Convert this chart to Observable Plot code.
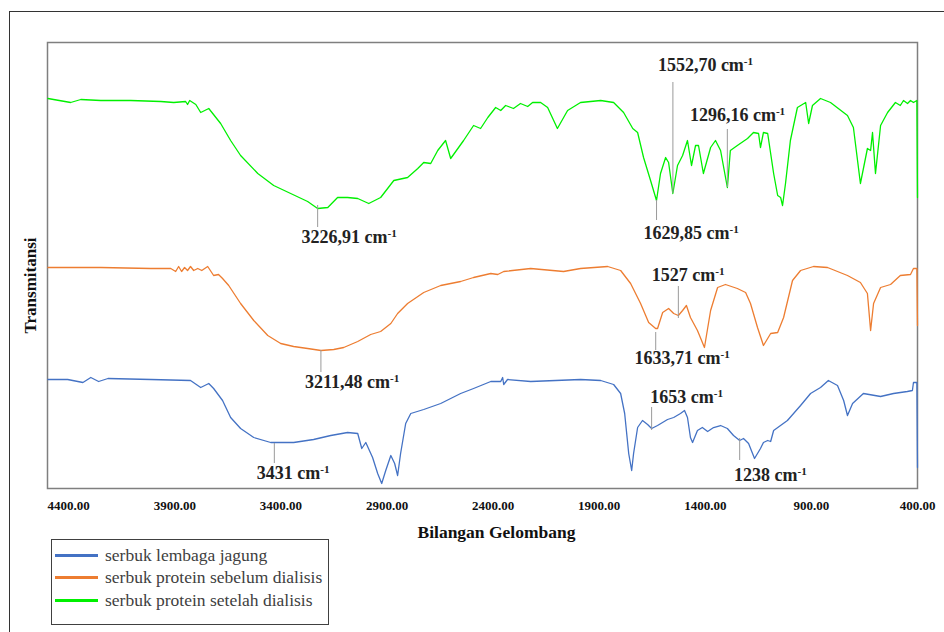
<!DOCTYPE html>
<html>
<head>
<meta charset="utf-8">
<script src="https://cdn.jsdelivr.net/npm/d3@7"></script>
<script src="https://cdn.jsdelivr.net/npm/@observablehq/plot@0.6"></script>
<style>
  body { margin: 0; background: #fff; }
  #wrap { position: relative; width: 944px; height: 632px; overflow: hidden; background: #fff; }
  #wrap svg { position: absolute; left: 0; top: 0; }
  #wrap svg text { font-family: "Liberation Serif", "Times New Roman", Times, "DejaVu Serif", serif; }
  #outer { position: absolute; left: 9px; top: 11px; width: 1000px; height: 700px;
           border-left: 1.5px solid #333; border-top: 1.5px solid #333; pointer-events: none; }
  #legend { position: absolute; left: 51px; top: 539px; width: 276px; height: 84px;
            border: 1.5px solid #404040; background: #fff;
            font-family: "Liberation Serif", "Times New Roman", Times, "DejaVu Serif", serif;
            font-size: 17.5px; color: #404040; }
  .row { position: absolute; left: 0; height: 22px; display: flex; align-items: center; white-space: nowrap; }
  .sw { width: 43px; height: 3px; margin-left: 3px; margin-right: 7px; }
</style>
</head>
<body>
<div id="wrap"><div id="outer"></div></div>
<script>
// ---- Data (wavenumber cm^-1, transmittance in arbitrary offset units) ----
const seriesNames = ["serbuk lembaga jagung", "serbuk protein sebelum dialisis", "serbuk protein setelah dialisis"];
const seriesColors = ["#4472C4", "#ED7D31", "#00F000"];

const blueWn = [4498,4405,4333,4296,4259,4215,4013,3826,3778,3740,3717,3675,3637,3590,3528,3448,3340,3246,3165,3086,3038,3019,3000,2968,2944,2925,2906,2882,2864,2850,2836,2812,2788,2727,2647,2553,2492,2411,2364,2355,2350,2332,2223,1988,1893,1832,1799,1780,1761,1747,1738,1719,1696,1672,1653,1625,1578,1549,1517,1498,1484,1470,1460,1437,1414,1389,1361,1328,1296,1267,1238,1220,1196,1168,1140,1126,1106,1092,1078,1013,951,904,857,820,777,748,730,706,655,574,513,448,424,419,403,400];
const blueT = [109,109,106,111,107,110,109,108,101,105,100,88,71,60,51,46,46,49,53,56,55,40,46,31,15,5,18,33,25,13,35,65,75,79,85,95,100,107,107,111,104,109,107,109,108,104,95,75,35,18,35,61,68,64,60,63,69,71,75,78,71,51,46,58,61,57,61,63,60,53,48,50,45,30,40,46,48,47,58,68,83,95,101,108,103,88,73,85,95,92,95,97,98,106,106,21];

const orangeWn = [4498,4249,4013,3919,3896,3882,3868,3854,3840,3826,3811,3792,3773,3745,3717,3694,3675,3646,3590,3528,3462,3401,3340,3274,3211,3151,3104,3038,2977,2930,2882,2850,2803,2727,2647,2553,2492,2411,2378,2350,2223,2068,1988,1860,1799,1752,1705,1667,1634,1625,1601,1573,1549,1527,1507,1489,1470,1437,1404,1375,1342,1305,1249,1210,1187,1154,1126,1092,1059,1031,989,951,890,824,730,669,636,621,607,574,527,481,433,419,403,400];
const orangeT = [221,221,220,220,217,222,217,221,218,222,218,220,218,222,213,214,210,203,185,168,153,145,142,140,138,139,141,147,154,157,165,175,185,196,203,207,211,215,214,217,220,217,220,222,218,205,185,166,160,160,176,180,175,173,178,183,171,158,141,178,201,204,200,196,185,161,143,155,156,171,208,218,222,221,213,206,195,158,185,201,204,213,214,220,220,163];

const greenWn = [4498,4391,4343,4249,4108,3966,3905,3849,3840,3830,3801,3778,3740,3684,3637,3590,3509,3434,3354,3274,3227,3179,3133,3086,3038,2986,2930,2868,2803,2755,2727,2694,2661,2624,2600,2539,2492,2459,2425,2388,2364,2341,2304,2271,2237,2214,2176,2143,2097,2049,1988,1893,1832,1785,1742,1719,1691,1658,1630,1611,1587,1573,1553,1531,1507,1484,1465,1446,1432,1409,1375,1352,1328,1296,1282,1249,1201,1173,1149,1140,1126,1106,1078,1059,1045,1036,1022,999,966,927,913,895,857,810,730,702,669,636,621,612,598,574,541,504,481,466,447,433,419,403,400];
const greenT = [390,386,389,388,388,387,386,387,384,388,384,376,380,365,348,333,315,303,295,287,280,281,291,291,290,285,291,308,311,320,326,325,338,348,330,348,363,360,371,381,378,383,380,385,382,386,386,381,360,378,386,388,386,376,360,356,331,308,288,315,331,326,295,323,333,348,323,343,343,315,341,348,338,301,338,343,350,356,355,341,356,355,315,293,291,283,305,348,381,386,365,383,390,386,373,361,305,340,338,356,315,363,376,386,383,388,385,388,386,388,291];

const xTicks = [4400, 3900, 3400, 2900, 2400, 1900, 1400, 900, 400];

// Peak annotations
const annWn = [3226.91, 1629.85, 1552.70, 1296.16, 3211.48, 1633.71, 1527, 3431, 1653, 1238];
const annLabel = ["3226,91", "1629,85", "1552,70", "1296,16", "3211,48", "1633,71", "1527", "3431", "1653", "1238"];
const annSeries = [2, 2, 2, 2, 1, 1, 1, 0, 0, 0];

// ---- Layout of the annotations (leader line ends and label anchor) ----
const annLayout = [
  [283, 261, 3078, 251],
  [288, 268, 1467, 255],
  [406, 295, 1399, 423],
  [359, 301, 1248, 373],
  [138, 116, 3064, 106],
  [156, 138, 1509, 130],
  [202, 170, 1481, 213],
  [45, 25, 3342, 15],
  [81, 58, 1488, 91],
  [50, 28, 1093, 13]
];

// ---- Build tables ----
const seriesWn = [blueWn, orangeWn, greenWn];
const seriesT = [blueT, orangeT, greenT];
const rows = [];
seriesWn.forEach((wns, s) => wns.forEach((w, i) => rows.push({wn: w, t: seriesT[s][i], series: seriesNames[s]})));
const ann = annWn.map((w, i) => ({
  wn: w, y1: annLayout[i][0], y2: annLayout[i][1],
  lx: annLayout[i][2], ly: annLayout[i][3], label: annLabel[i] + " cm"
}));

const serif = "Liberation Serif, Times New Roman, Times, DejaVu Serif, serif";

const chart = Plot.plot({
  width: 944,
  height: 632,
  marginLeft: 47,
  marginRight: 27,
  marginTop: 42,
  marginBottom: 144,
  style: {fontFamily: serif, background: "transparent", color: "#111"},
  x: {domain: [4500, 400]},
  y: {domain: [0, 446], axis: null},
  color: {domain: seriesNames, range: seriesColors},
  marks: [
    Plot.frame({stroke: "#7f7f7f", strokeWidth: 1.5}),
    Plot.line(rows, {x: "wn", y: "t", z: "series", stroke: "series", strokeWidth: 1.3}),
    Plot.ruleX(ann, {x: "wn", y1: "y1", y2: "y2", stroke: "#9a9a9a", strokeWidth: 1}),
    Plot.text(ann, {x: "lx", y: "ly", text: "label", fontSize: 18, fontWeight: "bold",
                    fill: "#222", textAnchor: "middle", lineAnchor: "middle"}),
    Plot.axisX({ticks: xTicks, tickFormat: d => d.toFixed(2), tickSize: 0, tickPadding: 12,
                fontSize: 13, fontWeight: "bold", label: null}),
    Plot.text(["Bilangan Gelombang"], {frameAnchor: "bottom", dx: 14, dy: 44, fontSize: 17.5,
                fontWeight: "bold", textAnchor: "middle", lineAnchor: "middle", fill: "#111"}),
    Plot.text(["Transmitansi"], {frameAnchor: "left", dx: -17, dy: 20, rotate: -90, fontSize: 17,
                fontWeight: "bold", textAnchor: "middle", lineAnchor: "middle", fill: "#111"})
  ]
});

// superscript "-1" after "cm"
d3.select(chart).selectAll("text").each(function() {
  const t = this.textContent;
  if (/ cm$/.test(t)) {
    d3.select(this).append("tspan").attr("dy", "-0.55em").attr("font-size", "0.62em").text("-1");
  }
});

const wrap = document.getElementById("wrap");
wrap.insertBefore(chart, wrap.firstChild);

// Legend
const legend = document.createElement("div");
legend.id = "legend";
seriesNames.forEach((name, i) => {
  const row = document.createElement("div");
  row.className = "row";
  row.style.top = (4 + i * 22.5) + "px";
  const sw = document.createElement("div");
  sw.className = "sw";
  sw.style.background = seriesColors[i];
  const label = document.createElement("span");
  label.textContent = name;
  row.appendChild(sw);
  row.appendChild(label);
  legend.appendChild(row);
});
wrap.appendChild(legend);
</script>
</body>
</html>
